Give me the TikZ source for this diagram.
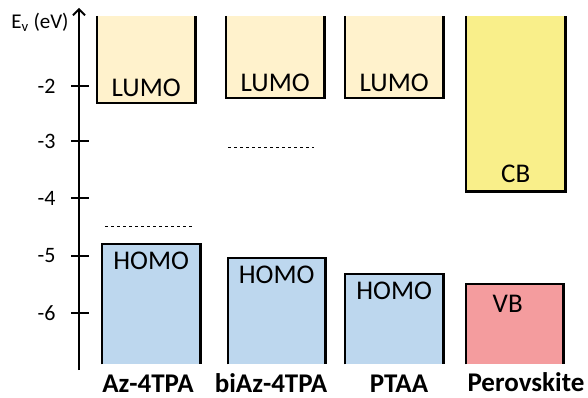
\documentclass[tikz,border=0pt]{standalone}
\usepackage{fontspec}
\setmainfont{Carlito}
\usetikzlibrary{arrows.meta, positioning}
\definecolor{lumo}{RGB}{255,242,204}
\definecolor{cband}{RGB}{249,239,138}
\definecolor{homo}{RGB}{189,215,238}
\definecolor{vband}{RGB}{244,156,158}

\begin{document}
\begin{tikzpicture}[x=1pt, y=-1pt]
		% Define elements
		\tikzstyle{level} = [rectangle, inner sep=0pt, anchor=north west]
		\tikzstyle{edge} = [draw, line width=2.2pt]
		\tikzstyle{lbl} = [font=\fontsize{27}{30}\selectfont, anchor=base, inner sep=0pt]
		\tikzstyle{mat} = [font=\fontsize{27}{30}\selectfont\bfseries, anchor=base, inner sep=0pt]
		\tikzstyle{tick} = [font=\fontsize{22}{26}\selectfont, anchor=east]
		\useasboundingbox (0,0) rectangle (588,398);

		%% Axis
		\draw [-{Straight Barb[length=6pt, width=12pt]}, line width=1.8pt] (79,370) -- (79,8);
		\foreach \v/\y in {-2/86, -3/141, -4/198, -5/256, -6/313} {
			\draw [line width=2.5pt] (71,\y) -- (89,\y);
			\node [tick] at (59,\y) {\v};
		}
		\node [name = axis, font=\fontsize{21}{24}\selectfont] at (40,22) {E\textsubscript{v} (eV)};

		%% LUMO / CB
		\node [name = lumoA, level, fill=lumo, minimum width=98pt, minimum height=87pt] at (97,16) {};
		\node [name = lumoB, level, fill=lumo, minimum width=98pt, minimum height=82pt] at (226,16) {};
		\node [name = lumoC, level, fill=lumo, minimum width=98pt, minimum height=82pt] at (345,16) {};
		\node [name = cb, level, fill=cband, minimum width=99pt, minimum height=175pt] at (466,16) {};

		%% HOMO / VB
		\node [name = homoA, level, fill=homo, minimum width=98pt, minimum height=120pt] at (102,244) {};
		\node [name = homoB, level, fill=homo, minimum width=97pt, minimum height=106pt] at (228,258) {};
		\node [name = homoC, level, fill=homo, minimum width=98pt, minimum height=90pt] at (345,274) {};
		\node [name = vb, level, fill=vband, minimum width=97pt, minimum height=80pt] at (466,284) {};

		% edges
		\foreach \n in {lumoA, lumoB, lumoC, cb}
			\path [edge] (\n.north west) -- (\n.south west) -- (\n.south east) -- (\n.north east);
		\foreach \n in {homoA, homoB, homoC, vb}
			\path [edge] (\n.south west) -- (\n.north west) -- (\n.north east) -- (\n.south east);

		% dashed levels
		\draw [dashed, thin] (105,226) -- (192,226);
		\draw [dashed, thin] (228,147) -- (314,147);

		% labels
		\foreach \n in {lumoA, lumoB, lumoC}
			\node [lbl] at ([yshift=7pt]\n.south) {LUMO};
		\node [lbl] at ([yshift=9pt]cb.south) {CB};
		\foreach \n in {homoA, homoB, homoC}
			\node [lbl] at ([yshift=-25pt]\n.north) {HOMO};
		\node [lbl] at ([xshift=-7pt, yshift=-28pt]vb.north) {VB};

		\node [name = nameA, mat] at (148,392) {Az-4TPA};
		\node [name = nameB, mat] at (271,392) {biAz-4TPA};
		\node [name = nameC, mat] at (399,392) {PTAA};
		\node [name = nameD, mat] at (526,391) {Perovskite};
	\end{tikzpicture}
\end{document}
